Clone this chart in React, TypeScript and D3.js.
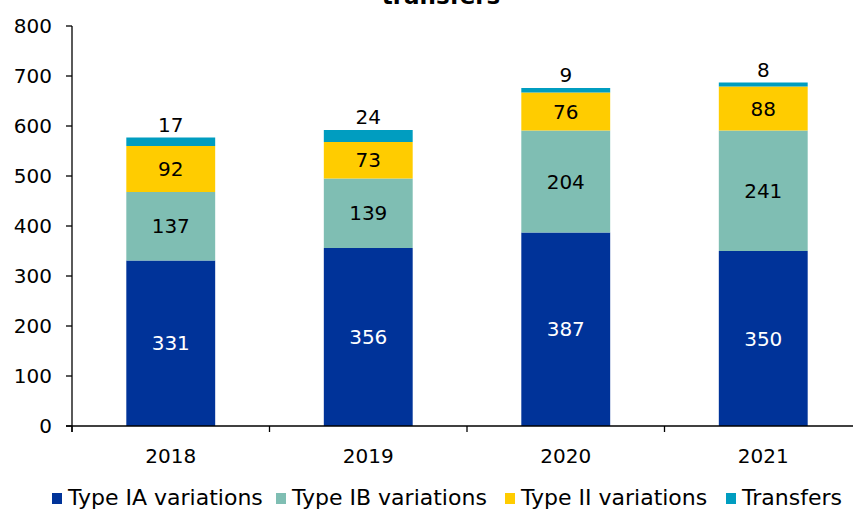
import React from "react";
import * as d3 from "d3";

const years = ["2018", "2019", "2020", "2021"];
const typeIA = [331, 356, 387, 350];
const typeIB = [137, 139, 204, 241];
const typeII = [92, 73, 76, 88];
const transfers = [17, 24, 9, 8];
const seriesNames = ["Type IA variations", "Type IB variations", "Type II variations", "Transfers"];
const seriesColors = ["#003399", "#7FBEB3", "#FFCC00", "#009DC0"];
const yTicks = [0, 100, 200, 300, 400, 500, 600, 700, 800];

const W = 853;
const H = 509;
const FONT = "Verdana, 'DejaVu Sans', sans-serif";

export default function App() {
  const x = d3
    .scaleBand<string>()
    .domain(years)
    .range([72, 862])
    .paddingInner(0.55)
    .paddingOuter(0.275);
  const y = d3.scaleLinear().domain([0, 800]).range([426, 26]);
  const step = x.step();

  const rows = years.map((yr, i) => ({
    year: yr,
    IA: typeIA[i],
    IB: typeIB[i],
    II: typeII[i],
    T: transfers[i],
  }));
  const keys = ["IA", "IB", "II", "T"];
  const stack = d3.stack<any>().keys(keys)(rows);

  const legendTextX = [68, 292, 521, 742];

  return (
    <svg
      width={W}
      height={H}
      style={{ position: "absolute", left: 0, top: 0, background: "#fff" }}
      fontFamily={FONT}
    >
      <text x={441} y={4} textAnchor="middle" fontSize={23} fontWeight="bold" fill="#000">
        transfers
      </text>
      {stack.map((s, si) =>
        s.map((d, i) => {
          const x0 = x(years[i])!;
          const bw = x.bandwidth();
          const y0 = y(d[0]);
          const y1 = y(d[1]);
          const val = d[1] - d[0];
          const isTop = si === 3;
          return (
            <g key={`${si}-${i}`}>
              <rect x={x0} y={y1} width={bw} height={y0 - y1} fill={seriesColors[si]} />
              <text
                x={x0 + bw / 2}
                y={isTop ? y1 - 6 : (y0 + y1) / 2}
                dy={isTop ? 0 : "0.36em"}
                textAnchor="middle"
                fontSize={20}
                fill={si === 0 ? "#fff" : "#000"}
              >
                {val}
              </text>
            </g>
          );
        })
      )}
      {/* y axis */}
      <line x1={72} x2={72} y1={26} y2={432} stroke="#000" strokeWidth={1.3} />
      {yTicks.map((t) => (
        <g key={t}>
          <line x1={66} x2={72} y1={y(t)} y2={y(t)} stroke="#000" strokeWidth={1.3} />
          <text x={52} y={y(t)} dy="0.36em" textAnchor="end" fontSize={20} fill="#000">
            {t}
          </text>
        </g>
      ))}
      {/* x axis */}
      <line x1={66} x2={862} y1={426} y2={426} stroke="#000" strokeWidth={1.3} />
      {d3.range(years.length + 1).map((k) => {
        const xx = 72 + step * k;
        return <line key={k} x1={xx} x2={xx} y1={426} y2={432} stroke="#000" strokeWidth={1.3} />;
      })}
      {years.map((yr) => (
        <text
          key={yr}
          x={x(yr)! + x.bandwidth() / 2}
          y={463}
          textAnchor="middle"
          fontSize={20}
          fill="#000"
        >
          {yr}
        </text>
      ))}
      {/* legend */}
      {seriesNames.map((n, i) => (
        <g key={n}>
          <rect x={legendTextX[i] - 16} y={493} width={10} height={11} fill={seriesColors[i]} />
          <text x={legendTextX[i]} y={505} fontSize={22} fill="#000">
            {n}
          </text>
        </g>
      ))}
    </svg>
  );
}
